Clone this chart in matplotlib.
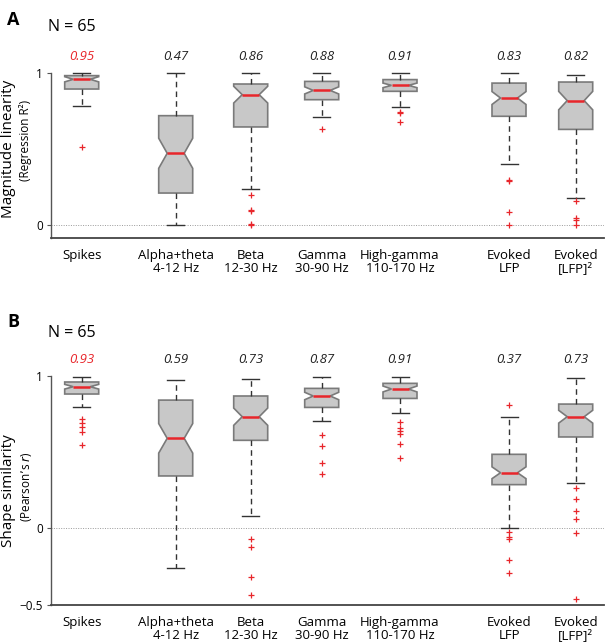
import numpy as np
import matplotlib
matplotlib.use("Agg")
import matplotlib.pyplot as plt

plt.rcParams['font.family'] = ['Open Sans', 'DejaVu Sans']

categories = ["Spikes", "Alpha+theta\n4-12 Hz", "Beta\n12-30 Hz", "Gamma\n30-90 Hz",
              "High-gamma\n110-170 Hz", "Evoked\nLFP", "Evoked\n[LFP]²"]
N = 65

# Panel A: magnitude linearity (regression R^2)
A_med = [0.959, 0.473, 0.858, 0.886, 0.919, 0.836, 0.819]
A_q1 = [0.895, 0.212, 0.646, 0.825, 0.880, 0.716, 0.630]
A_q3 = [0.983, 0.720, 0.928, 0.945, 0.957, 0.934, 0.941]
A_lo = [0.786, 0.000, 0.241, 0.711, 0.777, 0.403, 0.179]
A_hi = [1.000, 1.000, 1.000, 1.000, 1.000, 1.000, 0.989]
A_fliers = [[0.512], [], [0.197, 0.102, 0.095, 0.010, 0.004],
            [0.630], [0.745, 0.738, 0.676],
            [0.295, 0.288, 0.085, 0.0], [0.160, 0.048, 0.035, 0.0]]
A_labels = ["0.95", "0.47", "0.86", "0.88", "0.91", "0.83", "0.82"]

# Panel B: shape similarity (Pearson's r)
B_med = [0.930, 0.591, 0.733, 0.869, 0.915, 0.365, 0.733]
B_q1 = [0.882, 0.344, 0.578, 0.794, 0.853, 0.287, 0.600]
B_q3 = [0.961, 0.842, 0.869, 0.919, 0.952, 0.486, 0.816]
B_lo = [0.794, -0.263, 0.083, 0.707, 0.759, 0.004, 0.295]
B_hi = [0.991, 0.974, 0.978, 0.996, 0.996, 0.733, 0.985]
B_fliers = [[0.72, 0.69, 0.665, 0.635, 0.55], [], [-0.07, -0.12, -0.317, -0.44],
            [0.61, 0.54, 0.427, 0.357], [0.70, 0.657, 0.641, 0.619, 0.553, 0.46],
            [0.81, -0.026, -0.059, -0.072, -0.208, -0.29],
            [0.263, 0.19, 0.114, 0.059, -0.028, -0.466]]
B_labels = ["0.93", "0.59", "0.73", "0.87", "0.91", "0.37", "0.73"]

# layout
positions = [30.7, 124.7, 199.7, 270.7, 349.0, 458.0, 524.7]
box_w = 34
RED = "#e8262b"

fig = plt.figure(figsize=(6.06, 6.43), dpi=100)
H = 643.0
W = 606.0
axA = fig.add_axes([51 / W, (H - 237.5) / H, 553 / W, 167.5 / H])
axB = fig.add_axes([51 / W, (H - 604.5) / H, 553 / W, 231.5 / H])


def draw(ax, med, q1, q3, lo, hi, fliers, labels, ymin, ylab1, ylab2, y1, y2):
    stats = []
    for i in range(len(med)):
        iqr = q3[i] - q1[i]
        half = 1.57 * iqr / np.sqrt(N)
        stats.append(dict(med=med[i], q1=q1[i], q3=q3[i], whislo=lo[i], whishi=hi[i],
                          fliers=np.array(fliers[i]), cilo=med[i] - half, cihi=med[i] + half))
    ax.bxp(stats, positions=positions, widths=box_w, shownotches=True, patch_artist=True,
           boxprops=dict(facecolor="#c8c8c8", edgecolor="#7a7a7a", linewidth=1.2),
           medianprops=dict(color=RED, linewidth=1.8),
           whiskerprops=dict(color="#333333", linestyle=(0, (4, 3)), linewidth=1.0),
           capprops=dict(color="#333333", linewidth=1.0),
           flierprops=dict(marker="+", markeredgecolor=RED, markersize=5, markeredgewidth=0.9),
           manage_ticks=False)
    ax.set_xlim(0, 553)
    ax.set_ylim(ymin, 1.02)
    ax.axhline(0, color="#9a9a9a", linestyle=(0, (1, 1.5)), linewidth=0.7, zorder=0)
    for s in ["top", "right"]:
        ax.spines[s].set_visible(False)
    ax.spines["left"].set_bounds(ymin, 1.0)
    ax.spines["left"].set_color("#555555")
    ax.spines["bottom"].set_color("#444444")
    ax.spines["bottom"].set_linewidth(1.3)
    ax.spines["left"].set_linewidth(1.0)
    ax.set_xticks(positions)
    ax.set_xticklabels(categories, fontsize=9.5, linespacing=1.0)
    ax.tick_params(axis="x", length=0, pad=8)
    ax.tick_params(axis="y", length=3, width=0.8, color="#555555", labelsize=8.5, pad=3)
    for i, t in enumerate(labels):
        ax.text(positions[i], 1.11, t, ha="center", va="center", fontsize=9.5,
                style="italic", color=RED if i == 0 else "#222222", clip_on=False)
    ax.text(-42, y1, ylab1, rotation=90, ha="center", va="center", fontsize=11,
            transform=ax.transData, clip_on=False)
    ax.text(-25, y2, ylab2, rotation=90, ha="center", va="center", fontsize=8.5,
            transform=ax.transData, clip_on=False)


draw(axA, A_med, A_q1, A_q3, A_lo, A_hi, A_fliers, A_labels, -0.08,
     "Magnitude linearity", "(Regression R²)", 0.5, 0.56)
axA.set_yticks([0, 1])
axA.set_yticklabels(["0", "1"])

draw(axB, B_med, B_q1, B_q3, B_lo, B_hi, B_fliers, B_labels, -0.5,
     "Shape similarity", "(Pearson’s $\\it{r}$)", 0.245, 0.27)
axB.set_yticks([-0.5, 0, 1])
axB.set_yticklabels(["\u22120.5", "0", "1"])

fig.text(13 / W, 1 - 20 / H, "A", fontsize=13, fontweight="bold", ha="center", va="center")
fig.text(72 / W, 1 - 27 / H, "N = 65", fontsize=11.5, ha="center", va="center")
fig.text(13 / W, 1 - 322 / H, "B", fontsize=13, fontweight="bold", ha="center", va="center")
fig.text(72 / W, 1 - 333 / H, "N = 65", fontsize=11.5, ha="center", va="center")

fig.savefig("out.png", dpi=100)
